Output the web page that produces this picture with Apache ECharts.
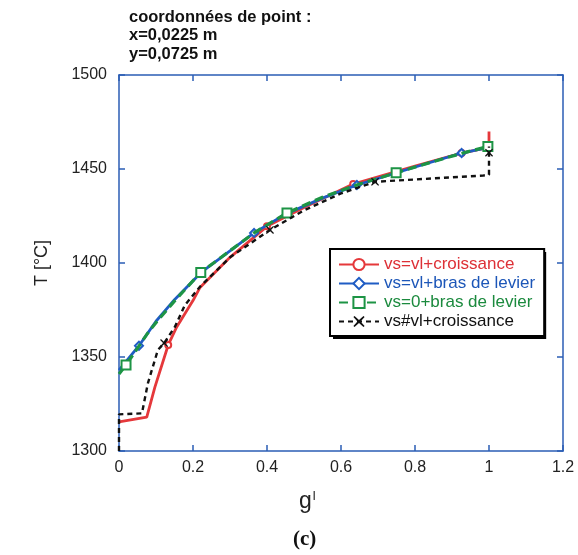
<!DOCTYPE html>
<html>
<head>
<meta charset="utf-8">
<script src="https://cdn.jsdelivr.net/npm/echarts@6/dist/echarts.min.js"></script>
<style>
html,body{margin:0;padding:0;background:#fff;}
#chart{width:578px;height:555px;}
</style>
</head>
<body>
<div id="chart"></div>
<script>
// ---- data ----
const titleLines = ['coordonnées de point :', 'x=0,0225 m', 'y=0,0725 m'];
const seriesNames = ['vs=vl+croissance', 'vs=vl+bras de levier', 'vs=0+bras de levier', 'vs#vl+croissance'];
const xTicks = [0, 0.2, 0.4, 0.6, 0.8, 1, 1.2];
const yTicks = [1300, 1350, 1400, 1450, 1500];

const gRed = [0, 0.075, 0.097, 0.133, 0.156, 0.2, 0.219, 0.3, 0.4, 0.5, 0.633, 0.8, 0.926, 1.0, 1.0];
const tRed = [1315.5, 1318, 1334, 1356.4, 1366, 1380, 1387, 1403, 1419.5, 1429.5, 1442, 1451.5, 1458.5, 1461.5, 1470];
const mRed = [3, 8, 10, 12];

const gBlue = [0, 0.054, 0.1, 0.15, 0.222, 0.3, 0.365, 0.45, 0.55, 0.643, 0.75, 0.85, 0.926, 1.0];
const tBlue = [1343, 1356, 1369, 1380.5, 1395, 1406.5, 1416, 1426, 1434.5, 1441.5, 1448, 1454, 1458.5, 1461.5];
const mBlue = [1, 6, 9, 12];

const gGreen = [0, 0.019, 0.078, 0.102, 0.151, 0.221, 0.3, 0.365, 0.454, 0.55, 0.65, 0.749, 0.85, 0.93, 0.997];
const tGreen = [1341, 1345.7, 1362.8, 1368.8, 1380, 1395, 1406.5, 1416, 1426.6, 1435, 1442, 1448, 1454, 1458.5, 1462];
const mGreen = [1, 5, 8, 11, 14];

const gBlack = [0, 0, 0.062, 0.078, 0.105, 0.122, 0.151, 0.178, 0.219, 0.3, 0.408, 0.5, 0.6, 0.692, 0.85, 0.984, 1.0, 1.0, 1.0];
const tBlack = [1300, 1319.5, 1320, 1336, 1353.7, 1357.4, 1366, 1377.6, 1387.4, 1403, 1417.6, 1428, 1437, 1443.2, 1445, 1446.5, 1447, 1458.7, 1462];
const mBlack = [5, 10, 13, 17];

// ---- styling ----
const FONT = '"Liberation Sans", Arial, Helvetica, sans-serif';
const AX = '#2b5db5';
const C_RED = '#e5383b', C_BLUE = '#1f5cc4', C_GREEN = '#1d9445', C_BLACK = '#111111';
const LEG_COL = ['#dd3036', '#1c56b8', '#1b8a3e', '#111111'];
const X_SYM = 'path://M1,0 L5,3.6 L9,0 L10,1 L6.4,5 L10,9 L9,10 L5,6.4 L1,10 L0,9 L3.6,5 L0,1 Z';

// legend box geometry (computed from the text so the drop shadow fits it)
const LEG = { left: 330, top: 249, pad: [7, 9, 6, 8], itemW: 40, itemH: 14, gap: 2, font: 17, line: 17 };
const mctx = document.createElement('canvas').getContext('2d');
mctx.font = LEG.font + 'px ' + FONT;
const maxTextW = Math.max.apply(null, seriesNames.map(n => mctx.measureText(n).width));
const legW = LEG.pad[3] + LEG.itemW + 5 + maxTextW + LEG.pad[1];
const legH = LEG.pad[0] + seriesNames.length * LEG.line + (seriesNames.length - 1) * LEG.gap + LEG.pad[2];

function pts(gs, ts, marks) {
  return gs.map((g, i) => {
    const d = { value: [g, ts[i]] };
    if (marks.indexOf(i) < 0) d.symbol = 'none';
    return d;
  });
}

const chart = echarts.init(document.getElementById('chart'), null, { renderer: 'canvas' });

const axisCommon = {
  type: 'value',
  axisLine: { show: true, onZero: false, lineStyle: { color: AX, width: 1.5 } },
  axisTick: { show: true, inside: true, length: 6, lineStyle: { color: AX, width: 1.5 } },
  splitLine: { show: false }
};

chart.setOption({
  animation: false,
  backgroundColor: '#ffffff',
  grid: { left: 119, right: 15, top: 75, bottom: 104 },
  xAxis: [
    Object.assign({}, axisCommon, {
      position: 'bottom', min: xTicks[0], max: xTicks[xTicks.length - 1], interval: 0.2,
      axisLabel: { color: '#222', fontSize: 16, fontFamily: FONT, margin: 9, formatter: v => String(+v.toFixed(1)) }
    }),
    Object.assign({}, axisCommon, {
      position: 'top', min: xTicks[0], max: xTicks[xTicks.length - 1], interval: 0.2,
      axisLabel: { show: false }
    })
  ],
  yAxis: [
    Object.assign({}, axisCommon, {
      position: 'left', min: yTicks[0], max: yTicks[yTicks.length - 1], interval: 50,
      axisLabel: { color: '#222', fontSize: 16, fontFamily: FONT, margin: 12, formatter: v => String(v) },
      name: 'T [°C]', nameLocation: 'middle', nameGap: 68, nameRotate: 90,
      nameTextStyle: { color: '#222', fontSize: 18, fontFamily: FONT }
    }),
    Object.assign({}, axisCommon, {
      position: 'right', min: yTicks[0], max: yTicks[yTicks.length - 1], interval: 50,
      axisLabel: { show: false }
    })
  ],
  legend: {
    orient: 'vertical', left: LEG.left, top: LEG.top,
    padding: LEG.pad, itemGap: LEG.gap, itemWidth: LEG.itemW, itemHeight: LEG.itemH,
    backgroundColor: '#fff', borderColor: '#000', borderWidth: 2,
    selectedMode: false, z: 20,
    textStyle: { fontSize: LEG.font, fontFamily: FONT, lineHeight: LEG.line },
    data: seriesNames.map((n, i) => ({ name: n, textStyle: { color: LEG_COL[i] } }))
  },
  series: [
    {
      name: seriesNames[0], type: 'line', data: pts(gRed, tRed, mRed),
      showAllSymbol: true, symbol: 'emptyCircle', symbolSize: 6,
      lineStyle: { color: C_RED, width: 2.8 },
      itemStyle: { color: C_RED, borderColor: C_RED, borderWidth: 1.5 }, z: 2
    },
    {
      name: seriesNames[1], type: 'line', data: pts(gBlue, tBlue, mBlue),
      showAllSymbol: true, symbol: 'emptyDiamond', symbolSize: 8,
      lineStyle: { color: C_BLUE, width: 2.8 },
      itemStyle: { color: C_BLUE, borderColor: C_BLUE, borderWidth: 1.5 }, z: 3
    },
    {
      name: seriesNames[2], type: 'line', data: pts(gGreen, tGreen, mGreen),
      showAllSymbol: true, symbol: 'emptyRect', symbolSize: 9,
      lineStyle: { color: C_GREEN, width: 3.2, type: [9, 5] },
      itemStyle: { color: C_GREEN, borderColor: C_GREEN, borderWidth: 2 }, z: 4
    },
    {
      name: seriesNames[3], type: 'line', data: pts(gBlack, tBlack, mBlack),
      showAllSymbol: true, symbol: X_SYM, symbolSize: 8,
      lineStyle: { color: C_BLACK, width: 2.4, type: [5, 4] },
      itemStyle: { color: C_BLACK }, z: 5
    }
  ],
  graphic: [
    {
      type: 'rect', left: LEG.left + 3, top: LEG.top + 3, z: 19,
      shape: { width: legW, height: legH }, style: { fill: '#000' }
    },
    {
      type: 'text', left: 129, top: 8,
      style: { text: titleLines.join('\n'), font: 'bold 16.5px ' + FONT, lineHeight: 18.5, fill: '#111' }
    },
    {
      type: 'text', left: 299, top: 490,
      style: {
        text: '{g|g}{s|l}', fill: '#222',
        rich: {
          g: { fontSize: 23, fontFamily: FONT, verticalAlign: 'bottom' },
          s: { fontSize: 13, fontFamily: FONT, verticalAlign: 'top', padding: [0, 0, 8, 1] }
        }
      }
    },
    {
      type: 'text', left: 293, top: 529,
      style: { text: '(c)', font: 'bold 21px "Liberation Serif", "Times New Roman", serif', fill: '#111' }
    }
  ]
});
</script>
</body>
</html>
